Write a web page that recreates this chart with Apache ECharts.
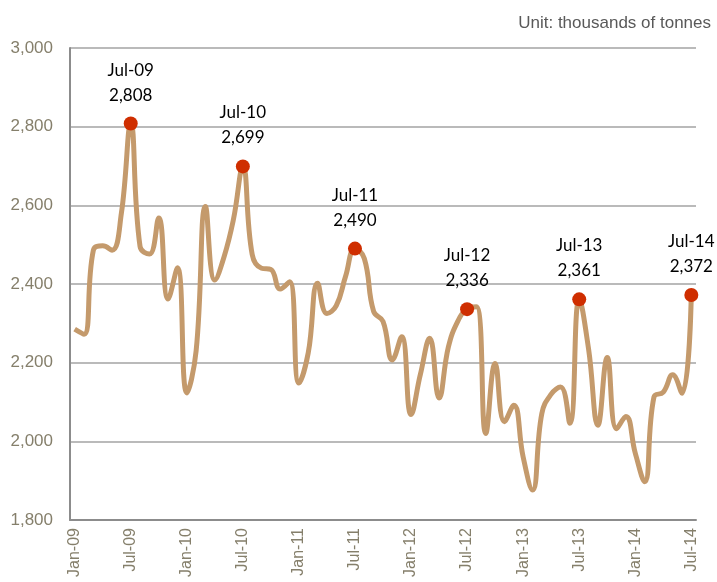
<!DOCTYPE html>
<html>
<head>
<meta charset="utf-8">
<script src="https://cdn.jsdelivr.net/npm/echarts@6/dist/echarts.min.js"></script>
<style>
	html, body { margin: 0; padding: 0; background: #fff; }
	#container { width: 717px; height: 582px; }
</style>
</head>
<body>
<div id="container"></div>
<script>
var years = ['09', '10', '11', '12', '13', '14'];
var monthNames = ['Jan', 'Feb', 'Mar', 'Apr', 'May', 'Jun', 'Jul', 'Aug', 'Sep', 'Oct', 'Nov', 'Dec'];

// Jan-09 .. Jul-14
var months = [];
years.forEach(function(y) {
	monthNames.forEach(function(m) {
		if (months.length < 67) months.push(m + '-' + y);
	});
});

// thousands of tonnes
var values2009 = [2285, 2272, 2486, 2497, 2486, 2580, 2808, 2495, 2476, 2568, 2362, 2441];
var values2010 = [2123, 2230, 2597, 2410, 2470, 2565, 2699, 2475, 2440, 2437, 2387, 2406];
var values2011 = [2148, 2225, 2402, 2325, 2345, 2420, 2490, 2465, 2330, 2305, 2207, 2266];
var values2012 = [2068, 2170, 2262, 2110, 2240, 2305, 2336, 2342, 2020, 2198, 2050, 2092];
var values2013 = [1960, 1876, 2071, 2120, 2138, 2046, 2361, 2235, 2041, 2213, 2032, 2063];
var values2014 = [1970, 1897, 2113, 2125, 2169, 2122, 2372];

var values = [].concat(values2009, values2010, values2011, values2012, values2013, values2014);

var yTicks = [1800, 2000, 2200, 2400, 2600, 2800, 3000];

function fmt(v) {
	return String(v).replace(/\B(?=(\d{3})+(?!\d))/g, ',');
}

var julyPoints = values.map(function(v, i) {
	return months[i].indexOf('Jul') === 0 ? v : '-';
});

var dom = document.getElementById('container');
var myChart = echarts.init(dom);
var option = {
	animation: false,
	title: {
		text: 'Unit: thousands of tonnes',
		right: 1,
		top: 10,
		textStyle: {
			fontFamily: 'Liberation Sans',
			fontSize: 17,
			fontWeight: 'normal',
			color: '#595959'
		}
	},
	grid: {
		left: 70,
		right: 21,
		top: 48,
		bottom: 62
	},
	xAxis: {
		type: 'category',
		data: months,
		boundaryGap: true,
		axisTick: { show: false },
		axisLine: {
			lineStyle: { color: '#8c8c8c', width: 2 }
		},
		axisLabel: {
			interval: 5,
			rotate: 90,
			margin: 8,
			fontFamily: 'Liberation Sans',
			fontSize: 16,
			color: '#857f6b'
		}
	},
	yAxis: {
		type: 'value',
		min: yTicks[0],
		max: yTicks[yTicks.length - 1],
		interval: 200,
		axisLine: {
			show: true,
			lineStyle: { color: '#8c8c8c', width: 2 }
		},
		axisTick: { show: false },
		splitLine: {
			lineStyle: { color: '#a3a3a3', width: 1.5 }
		},
		axisLabel: {
			margin: 17,
			fontFamily: 'Liberation Sans',
			fontSize: 17,
			color: '#857f6b',
			formatter: function(v) { return fmt(v); }
		}
	},
	series: [
		{
			type: 'line',
			data: values,
			smooth: 0.45,
			symbol: 'none',
			lineStyle: { color: '#c49a6c', width: 5 },
			z: 2
		},
		{
			type: 'scatter',
			data: julyPoints,
			symbol: 'circle',
			symbolSize: 14,
			itemStyle: { color: '#cf2e00', opacity: 1 },
			z: 3,
			label: {
				show: true,
				position: 'top',
				distance: 9,
				fontFamily: 'Lato',
				fontSize: 17,
				lineHeight: 25,
				color: '#000',
				align: 'center',
				formatter: function(p) {
					return p.name + '\n' + fmt(p.value);
				}
			}
		}
	]
};
myChart.setOption(option, true);
</script>
</body>
</html>
